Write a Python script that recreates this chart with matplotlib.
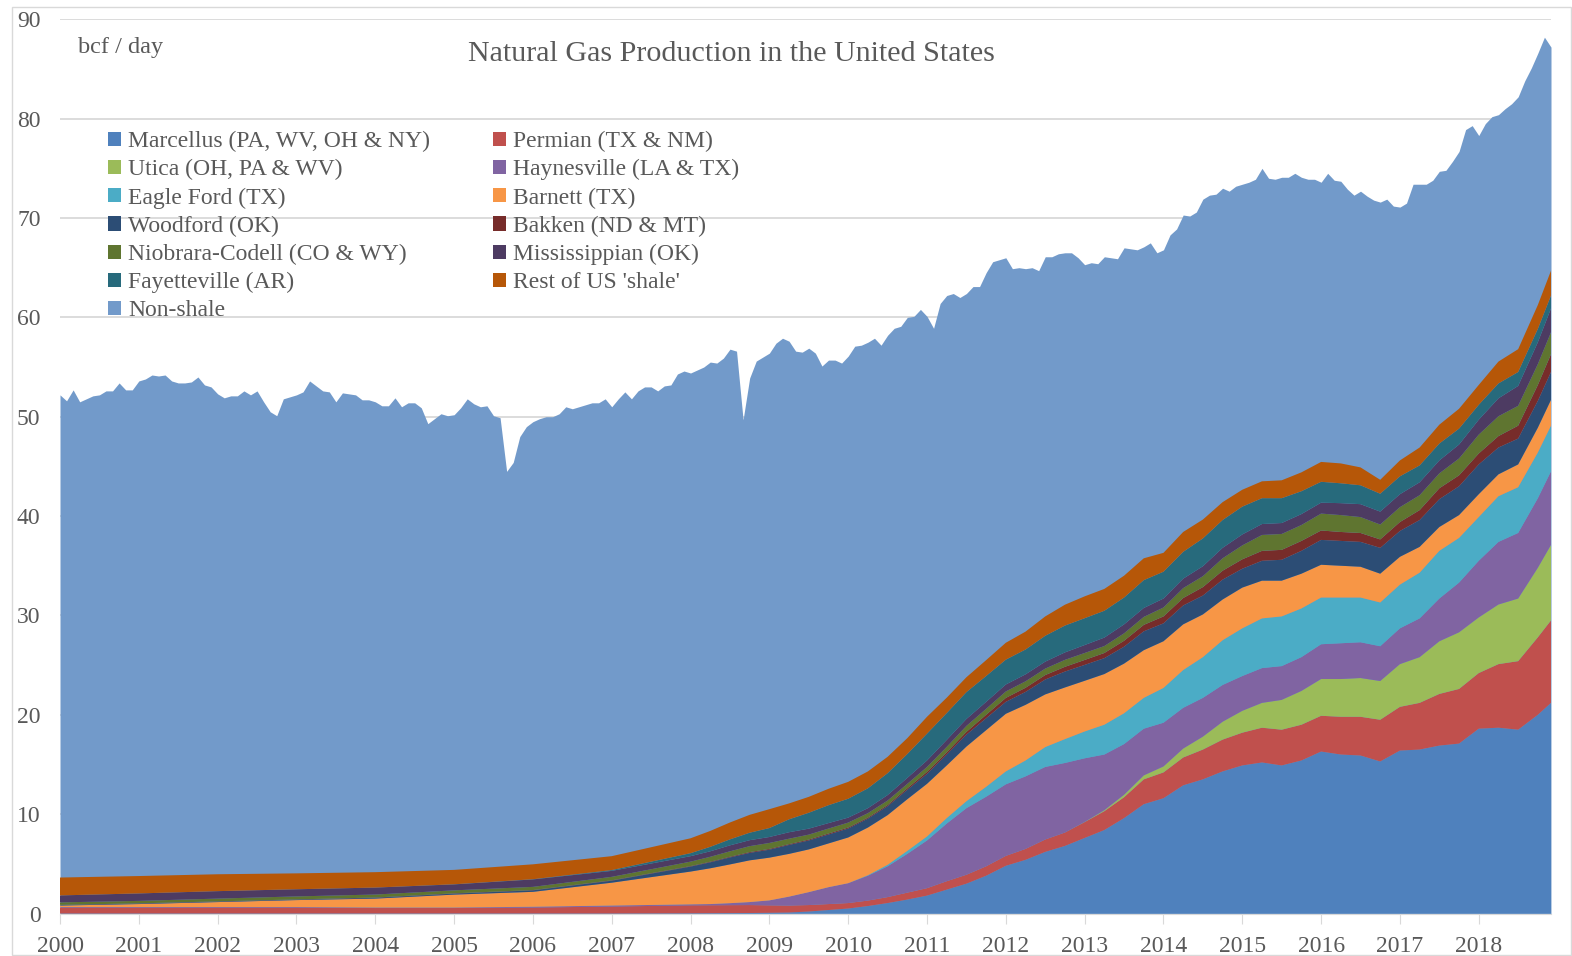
import matplotlib
matplotlib.use('Agg')
import matplotlib.pyplot as plt
from matplotlib.patches import Patch, Rectangle
import pandas as pd

plt.rcParams['font.family'] = ['Liberation Serif', 'DejaVu Serif']

# US dry gas production (bcf/day), monthly Jan 2000 - Dec 2018 (top of the chart)
total_months = pd.date_range('2000-01-01', '2018-12-01', freq='MS')
us_total = [
    52.2, 51.6, 52.7, 51.5, 51.8, 52.1, 52.2, 52.6, 52.6, 53.4, 52.7, 52.7,  # 2000
    53.6, 53.8, 54.2, 54.1, 54.2, 53.6, 53.4, 53.4, 53.5, 54.0, 53.2, 53.0,  # 2001
    52.3, 51.9, 52.1, 52.1, 52.6, 52.2, 52.6, 51.5, 50.5, 50.1, 51.8, 52.0,  # 2002
    52.2, 52.5, 53.6, 53.1, 52.6, 52.5, 51.5, 52.4, 52.3, 52.2, 51.7, 51.7,  # 2003
    51.5, 51.1, 51.1, 51.9, 51.0, 51.4, 51.4, 50.9, 49.3, 49.8, 50.3, 50.1,  # 2004
    50.2, 50.9, 51.8, 51.3, 51.0, 51.1, 50.1, 49.9, 44.5, 45.4, 48.0, 49.0,  # 2005
    49.5, 49.8, 50.0, 50.0, 50.3, 51.0, 50.8, 51.0, 51.2, 51.4, 51.4, 51.8,  # 2006
    51.0, 51.8, 52.5, 51.8, 52.6, 53.0, 53.0, 52.6, 53.1, 53.2, 54.3, 54.6,  # 2007
    54.4, 54.7, 55.0, 55.5, 55.4, 55.9, 56.8, 56.6, 49.7, 53.9, 55.6, 56.0,  # 2008
    56.4, 57.4, 57.9, 57.6, 56.6, 56.5, 56.9, 56.4, 55.1, 55.7, 55.7, 55.4,  # 2009
    56.1, 57.1, 57.2, 57.5, 57.9, 57.2, 58.2, 58.9, 59.1, 60.0, 60.1, 60.8,  # 2010
    60.1, 58.9, 61.4, 62.2, 62.4, 62.0, 62.4, 63.1, 63.1, 64.5, 65.6, 65.8,  # 2011
    66.0, 64.9, 65.0, 64.9, 65.0, 64.7, 66.1, 66.1, 66.4, 66.5, 66.5, 66.0,  # 2012
    65.3, 65.5, 65.4, 66.1, 66.0, 65.9, 67.0, 66.9, 66.8, 67.1, 67.5, 66.5,  # 2013
    66.8, 68.3, 68.9, 70.3, 70.2, 70.6, 71.9, 72.3, 72.4, 73.0, 72.7, 73.2,  # 2014
    73.4, 73.6, 73.9, 75.0, 74.0, 73.9, 74.1, 74.1, 74.5, 74.1, 73.9, 73.9,  # 2015
    73.6, 74.5, 73.8, 73.7, 72.9, 72.3, 72.7, 72.2, 71.8, 71.6, 71.9, 71.2,  # 2016
    71.1, 71.5, 73.4, 73.4, 73.4, 73.8, 74.7, 74.8, 75.7, 76.7, 78.9, 79.3,  # 2017
    78.3, 79.5, 80.2, 80.4, 81.0, 81.5, 82.2, 83.8, 85.1, 86.6, 88.2, 87.2,  # 2018
]

# shale plays, read yearly to 2008 and quarterly after that
shale_dates = [
    '2000-01', '2001-01', '2002-01', '2003-01', '2004-01', '2005-01', '2006-01', '2007-01', '2008-01',
    '2008-04', '2008-07', '2008-10',
    '2009-01', '2009-04', '2009-07', '2009-10',
    '2010-01', '2010-04', '2010-07', '2010-10',
    '2011-01', '2011-04', '2011-07', '2011-10',
    '2012-01', '2012-04', '2012-07', '2012-10',
    '2013-01', '2013-04', '2013-07', '2013-10',
    '2014-01', '2014-04', '2014-07', '2014-10',
    '2015-01', '2015-04', '2015-07', '2015-10',
    '2016-01', '2016-04', '2016-07', '2016-10',
    '2017-01', '2017-04', '2017-07', '2017-10',
    '2018-01', '2018-04', '2018-07', '2018-10',
    '2018-12',
]

marcellus = [0, 0, 0, 0, 0, 0, 0, 0, 0.02,
             0.03, 0.04, 0.05,
             0.07, 0.1, 0.2, 0.35,
             0.5, 0.75, 1.05, 1.4,
             1.8, 2.4, 3.0, 3.8,
             4.8, 5.4, 6.2, 6.8,
             7.6, 8.4, 9.6, 11.0,
             11.6, 12.9, 13.5, 14.3,
             14.9, 15.2, 14.9, 15.4,
             16.3, 16.0, 15.9, 15.3,
             16.4, 16.5, 16.9, 17.1,
             18.6, 18.7, 18.5, 20.0,
             21.2]
permian = [0.6, 0.6, 0.6, 0.6, 0.55, 0.55, 0.6, 0.7, 0.8,
           0.8, 0.8, 0.8,
           0.75, 0.7, 0.65, 0.6,
           0.55, 0.55, 0.6, 0.7,
           0.75, 0.85, 0.9, 0.95,
           1.0, 1.1, 1.25, 1.35,
           1.6, 1.9, 2.1, 2.5,
           2.6, 2.8, 3.0, 3.2,
           3.3, 3.5, 3.6, 3.6,
           3.6, 3.8, 3.9, 4.2,
           4.4, 4.7, 5.2, 5.5,
           5.6, 6.4, 6.9, 7.8,
           8.3]
utica = [0, 0, 0, 0, 0, 0, 0, 0, 0,
         0, 0, 0,
         0, 0, 0, 0,
         0, 0, 0, 0,
         0, 0, 0, 0,
         0, 0, 0, 0,
         0.02, 0.1, 0.25, 0.4,
         0.6, 0.9, 1.3, 1.8,
         2.2, 2.5, 3.0, 3.4,
         3.7, 3.8, 3.9, 3.9,
         4.3, 4.6, 5.3, 5.7,
         5.6, 6.0, 6.3, 7.0,
         7.6]
haynesville = [0.05, 0.05, 0.05, 0.05, 0.05, 0.05, 0.08, 0.1, 0.1,
               0.12, 0.2, 0.3,
               0.5, 0.9, 1.3, 1.7,
               2.0, 2.5, 3.1, 3.9,
               4.8, 5.8, 6.7, 7.0,
               7.2, 7.3, 7.3, 7.0,
               6.4, 5.6, 5.1, 4.7,
               4.4, 4.1, 3.9, 3.7,
               3.5, 3.5, 3.4, 3.4,
               3.5, 3.6, 3.6, 3.5,
               3.6, 3.9, 4.3, 5.0,
               5.7, 6.3, 6.6, 7.0,
               7.4]
eagle_ford = [0, 0, 0, 0, 0, 0, 0, 0, 0,
              0, 0, 0,
              0, 0, 0, 0,
              0, 0.05, 0.15, 0.3,
              0.4, 0.55, 0.7, 1.0,
              1.3, 1.6, 2.0, 2.4,
              2.7, 3.0, 3.1, 3.1,
              3.5, 3.8, 4.1, 4.5,
              4.8, 5.0, 5.0, 4.9,
              4.7, 4.6, 4.5, 4.4,
              4.4, 4.6, 4.8, 4.5,
              4.4, 4.6, 4.6, 4.6,
              4.6]
barnett = [0.15, 0.3, 0.5, 0.7, 0.9, 1.3, 1.5, 2.3, 3.3,
           3.6, 3.9, 4.2,
           4.3, 4.3, 4.3, 4.4,
           4.6, 4.8, 5.0, 5.2,
           5.3, 5.3, 5.5, 5.7,
           5.8, 5.6, 5.3, 5.2,
           5.1, 5.1, 5.0, 4.8,
           4.7, 4.6, 4.3, 4.1,
           4.1, 3.8, 3.6, 3.5,
           3.3, 3.2, 3.1, 2.9,
           2.8, 2.6, 2.4, 2.3,
           2.3, 2.2, 2.3, 2.5,
           2.6]
woodford = [0.05, 0.05, 0.05, 0.05, 0.08, 0.1, 0.15, 0.2, 0.5,
            0.6, 0.7, 0.75,
            0.8, 0.9, 0.9, 0.9,
            0.9, 0.9, 0.9, 0.95,
            1.0, 1.1, 1.2, 1.2,
            1.2, 1.3, 1.5, 1.6,
            1.6, 1.6, 1.7, 1.9,
            1.8, 1.9, 1.9, 2.0,
            1.9, 2.0, 2.1, 2.3,
            2.5, 2.5, 2.5, 2.6,
            2.6, 2.7, 2.8, 2.9,
            3.0, 2.7, 2.6, 2.7,
            2.8]
bakken = [0.02, 0.02, 0.02, 0.02, 0.03, 0.03, 0.03, 0.04, 0.05,
          0.06, 0.07, 0.08,
          0.08, 0.08, 0.09, 0.1,
          0.1, 0.1, 0.12, 0.15,
          0.2, 0.22, 0.28, 0.35,
          0.4, 0.42, 0.45, 0.48,
          0.5, 0.52, 0.6, 0.65,
          0.7, 0.75, 0.85, 0.9,
          0.95, 1.0, 1.0, 1.0,
          0.95, 0.9, 0.9, 0.85,
          0.9, 1.0, 1.1, 1.1,
          1.1, 1.15, 1.3, 1.6,
          1.8]
niobrara = [0.25, 0.25, 0.28, 0.3, 0.3, 0.3, 0.32, 0.35, 0.45,
            0.5, 0.55, 0.6,
            0.6, 0.55, 0.5, 0.5,
            0.5, 0.45, 0.45, 0.45,
            0.5, 0.55, 0.6, 0.6,
            0.65, 0.65, 0.65, 0.7,
            0.7, 0.7, 0.75, 0.8,
            0.9, 1.0, 1.1, 1.25,
            1.4, 1.6, 1.6, 1.6,
            1.7, 1.7, 1.6, 1.5,
            1.5, 1.5, 1.5, 1.7,
            1.9, 2.0, 2.0, 2.1,
            2.2]
mississippian = [0.7, 0.75, 0.75, 0.72, 0.7, 0.6, 0.75, 0.6, 0.55,
                 0.55, 0.6, 0.6,
                 0.6, 0.65, 0.6, 0.55,
                 0.5, 0.5, 0.55, 0.6,
                 0.65, 0.7, 0.7, 0.7,
                 0.7, 0.7, 0.7, 0.75,
                 0.8, 0.85, 0.9, 0.9,
                 0.9, 0.95, 1.0, 1.05,
                 1.1, 1.1, 1.1, 1.1,
                 1.1, 1.2, 1.3, 1.3,
                 1.3, 1.3, 1.3, 1.4,
                 1.5, 1.8, 2.0, 2.2,
                 2.4]
fayetteville = [0, 0, 0, 0, 0, 0.01, 0.02, 0.08, 0.3,
                0.45, 0.6, 0.75,
                0.9, 1.3, 1.6, 1.8,
                1.9, 2.0, 2.2, 2.4,
                2.7, 2.7, 2.7, 2.6,
                2.5, 2.5, 2.6, 2.7,
                2.7, 2.7, 2.7, 2.8,
                2.7, 2.7, 2.8, 2.8,
                2.8, 2.6, 2.5, 2.3,
                2.1, 2.0, 1.9, 1.8,
                1.8, 1.7, 1.7, 1.6,
                1.5, 1.5, 1.4, 1.35,
                1.3]
rest_shale = [1.8, 1.75, 1.7, 1.6, 1.55, 1.45, 1.5, 1.4, 1.5,
              1.6, 1.7, 1.8,
              1.9, 1.6, 1.6, 1.65,
              1.7, 1.7, 1.65, 1.6,
              1.7, 1.55, 1.5, 1.6,
              1.7, 1.8, 1.95, 2.1,
              2.2, 2.2, 2.2, 2.2,
              1.9, 2.0, 1.9, 1.8,
              1.7, 1.7, 1.8, 1.9,
              2.0, 2.0, 1.8, 1.4,
              1.6, 1.8, 1.9, 2.0,
              2.0, 2.2, 2.3, 2.4,
              2.5]

labels = ['Marcellus (PA, WV, OH & NY)', 'Permian (TX & NM)', 'Utica (OH, PA & WV)',
          'Haynesville (LA & TX)', 'Eagle Ford (TX)', 'Barnett (TX)', 'Woodford (OK)',
          'Bakken (ND & MT)', 'Niobrara-Codell (CO & WY)', 'Mississippian (OK)',
          'Fayetteville (AR)', "Rest of US 'shale'", 'Non-shale']
colors = ['#4F81BD', '#C0504D', '#9BBB59', '#8064A2', '#4BACC6', '#F79646', '#2C4D75',
          '#772C2A', '#5F7530', '#4D3B62', '#276A7C', '#B65708', '#729ACA']
layers = [marcellus, permian, utica, haynesville, eagle_ford, barnett, woodford,
          bakken, niobrara, mississippian, fayetteville, rest_shale]


def dec_year(dates):
    d = pd.to_datetime(dates)
    return d.year + (d.month - 1) / 12


x_total = dec_year(total_months)
x_shale = dec_year(shale_dates)

grey = '#595959'
W, H = 1572, 956
fig = plt.figure(figsize=(W / 100, H / 100), dpi=100)
ax = fig.add_axes([60 / W, 1 - 913.5 / H, 1491 / W, 894.2 / H])

# non-shale = everything under the total line; shale plays are stacked over it
ax.fill_between(x_total, 0, us_total, color=colors[-1], lw=0)
ax.stackplot(x_shale, *layers, colors=colors[:-1], lw=0)

ax.set_xlim(2000, 2000 + 227 / 12)
ax.set_ylim(0, 90)
ax.set_yticks(range(0, 91, 10))
ax.set_xticks(range(2000, 2019))
ax.yaxis.grid(True, color='#D9D9D9', lw=1.3)
ax.set_axisbelow(True)
for s in ['left', 'top', 'right']:
    ax.spines[s].set_visible(False)
ax.spines['bottom'].set_color('#D9D9D9')
ax.tick_params(axis='y', length=0, pad=14, labelsize=17, labelcolor=grey)
ax.tick_params(axis='x', length=7, color='#D9D9D9', pad=9, labelsize=17, labelcolor=grey)

fig.text(731 / W, 1 - 54 / H, 'Natural Gas Production in the United States',
         ha='center', va='center', fontsize=21.6, color=grey)
fig.text(78 / W, 1 - 48 / H, 'bcf / day', ha='left', va='center', fontsize=17.5, color=grey)

# legend is row-major in the reference: two columns, matplotlib fills columns first
handles = [Patch(facecolor=c, edgecolor='none') for c in colors]
order = list(range(0, 13, 2)) + list(range(1, 13, 2))
ax.legend([handles[i] for i in order], [labels[i] for i in order], ncol=2,
          loc='upper left', bbox_to_anchor=(108 / W, 1 - 131 / H), bbox_transform=fig.transFigure,
          frameon=False, fontsize=17, handlelength=0.55, handleheight=0.55,
          handletextpad=0.3, labelspacing=0.3, columnspacing=2.65, borderpad=0,
          borderaxespad=0, labelcolor=grey)

fig.add_artist(Rectangle((12 / W, 1 / H), (W - 13) / W, (H - 8) / H, transform=fig.transFigure,
                         fill=False, edgecolor='#D9D9D9', lw=1))

fig.savefig('out.png', dpi=100)
